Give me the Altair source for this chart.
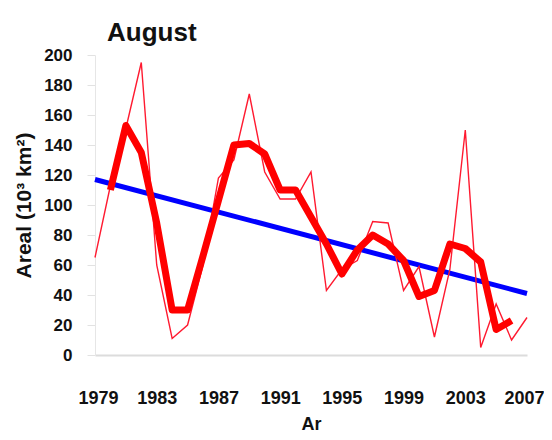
import altair as alt
import pandas as pd

years = list(range(1979, 2008))
annual = [65, 113, 151, 195, 60, 11, 20, 60, 118, 130, 174, 122, 104, 104, 122,
          43, 57, 63, 89, 88, 43, 59, 12, 57, 150, 5, 34, 10, 25]
smooth_years = list(range(1980, 2007))
smooth = [110, 153, 135, 88, 30, 30, 66, 103, 140, 141, 134, 110, 110, 92, 74,
          54, 70, 80, 74, 63, 39, 43, 74, 71, 62, 17, 23]
trend_years = [1979, 2007]
trend = [117, 41]
x_ticks = [1979, 1983, 1987, 1991, 1995, 1999, 2003, 2007]
y_ticks = [0, 20, 40, 60, 80, 100, 120, 140, 160, 180, 200]

df_annual = pd.DataFrame({"year": years, "value": annual})
df_smooth = pd.DataFrame({"year": smooth_years, "value": smooth})
df_trend = pd.DataFrame({"year": trend_years, "value": trend})

FONT = "Liberation Sans"

x_axis = alt.Axis(
    values=x_ticks, format="d", title="Ar", grid=False,
    tickSize=0, labelPadding=34, labelFontSize=18, labelFont=FONT,
    labelFontWeight="bold", labelColor="#111111", labelOverlap=False,
    labelFlush=True, labelFlushOffset=17,
    titleFontSize=18, titleFont=FONT, titleFontWeight="bold",
    titleColor="#111111", titlePadding=8,
    domainColor="#dcdcdc", domainWidth=2,
)
y_axis = alt.Axis(
    values=y_ticks, tickCount=11, title="Areal (10³ km²)", grid=False,
    tickSize=8, tickColor="#e2e2e2", labelPadding=15, labelOverlap=False,
    labelFontSize=17, labelFont=FONT, labelFontWeight="bold",
    labelColor="#111111", titleFontSize=21, titleFont=FONT,
    titleFontWeight="bold", titleColor="#111111", titlePadding=9,
    domainColor="#e6e6e6", domainWidth=1,
)
x_scale = alt.Scale(domain=[1979, 2007], nice=False, zero=False)
y_scale = alt.Scale(domain=[0, 200], nice=False)


def enc(ch):
    return ch.encode(
        x=alt.X("year:Q", scale=x_scale, axis=x_axis),
        y=alt.Y("value:Q", scale=y_scale, axis=y_axis),
    )


trend_line = enc(alt.Chart(df_trend).mark_line(color="#0000ff", strokeWidth=5))
annual_line = enc(alt.Chart(df_annual).mark_line(color="#ff1a30", strokeWidth=1.4))
smooth_line = enc(
    alt.Chart(df_smooth).mark_line(color="#ff0000", strokeWidth=7, strokeJoin="round")
)

chart = (
    alt.layer(trend_line, annual_line, smooth_line)
    .properties(
        width=432,
        height=300,
        title=alt.TitleParams(
            "August", anchor="start", frame="group", fontSize=26, font=FONT,
            fontWeight="bold", color="#111111", dx=12, offset=0,
        ),
        autosize=alt.AutoSizeParams(type="none"),
        padding={"left": 87, "top": 47, "right": 17, "bottom": 77},
        background="white",
    )
    .configure_view(stroke=None)
    .configure_axis(labelOverlap=False)
)

chart.save("out.html", embed_options={"renderer": "svg", "actions": False})
